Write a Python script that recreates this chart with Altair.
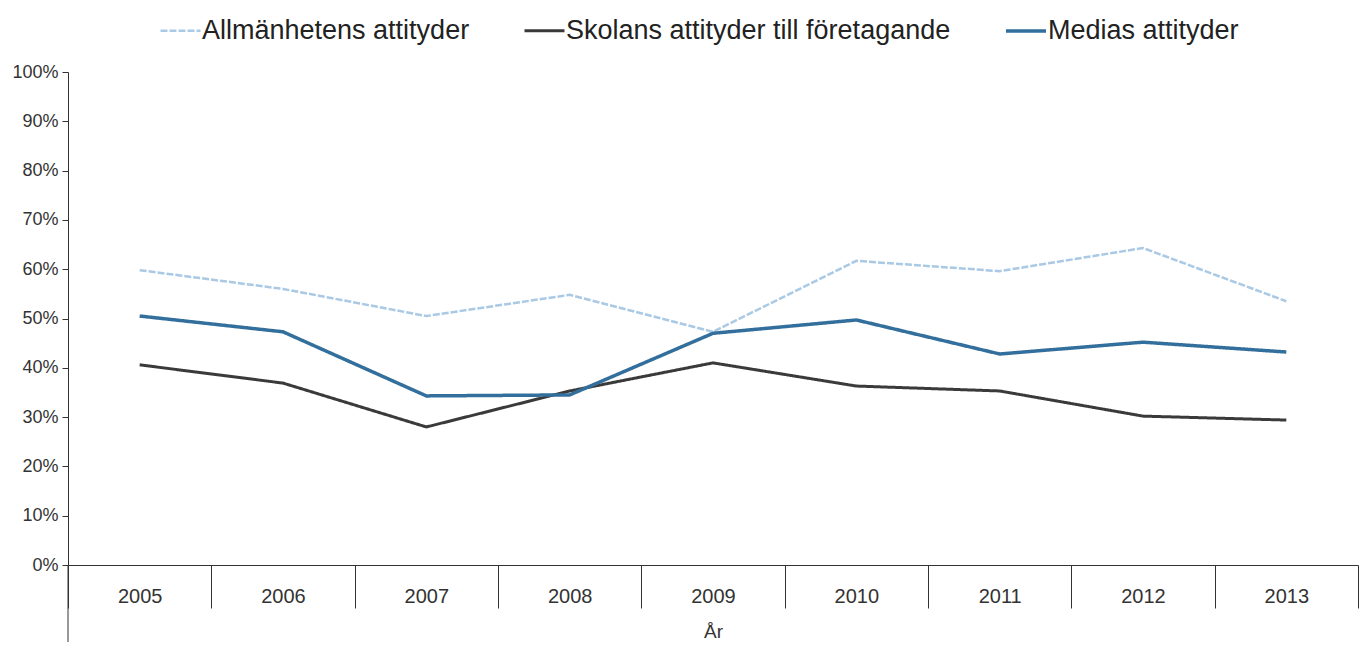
import altair as alt
import pandas as pd

years = ["2005", "2006", "2007", "2008", "2009", "2010", "2011", "2012", "2013"]
allmanhet = [59.8, 56.0, 50.5, 54.8, 47.3, 61.7, 59.6, 64.3, 53.5]
skolans = [40.6, 36.9, 28.0, 35.3, 41.0, 36.3, 35.3, 30.2, 29.4]
medias = [50.5, 47.3, 34.3, 34.5, 47.0, 49.7, 42.8, 45.2, 43.2]

series_names = ["Allmänhetens attityder", "Skolans attityder till företagande", "Medias attityder"]
series_values = [allmanhet, skolans, medias]
series_colors = ["#a9c9e4", "#3a3a3a", "#336f9c"]
series_widths = [2.5, 3.5, 4.5]
series_dash = [[7, 2], [1, 0], [1, 0]]

rows = []
for name, vals in zip(series_names, series_values):
    for y, v in zip(years, vals):
        rows.append({"year": y, "value": v / 100.0, "series": name})
df = pd.DataFrame(rows)

W, H = 1290, 493
FONT = "Liberation Sans"

x_enc = alt.X(
    "year:O",
    bandPosition=0.5,
    scale=alt.Scale(type="band", paddingInner=0, paddingOuter=0),
    axis=alt.Axis(
        title="År",
        tickBand="extent",
        tickSize=43,
        tickColor="#333333",
        domainColor="#333333",
        labelPadding=-22,
        labelFontSize=20,
        labelColor="#333333",
        labelAngle=0,
        titleFontSize=19,
        titleFontWeight="normal",
        titleColor="#333333",
        titlePadding=14,
    ),
)

y_enc = alt.Y(
    "value:Q",
    scale=alt.Scale(domain=[0, 1], nice=False, zero=True),
    axis=alt.Axis(
        title=None,
        format=".0%",
        values=[i / 10 for i in range(11)],
        grid=False,
        tickSize=6,
        tickColor="#333333",
        domainColor="#333333",
        labelFontSize=18,
        labelColor="#333333",
        labelPadding=4,
    ),
)

lines = alt.Chart(df).mark_line(strokeJoin="miter").encode(
    x=x_enc,
    y=y_enc,
    color=alt.Color(
        "series:N",
        sort=series_names,
        scale=alt.Scale(domain=series_names, range=series_colors),
        legend=alt.Legend(
            title=None,
            orient="none",
            direction="horizontal",
            legendX=91,
            legendY=-63,
            symbolType="stroke",
            symbolSize=1600,
            symbolStrokeWidth=4,
            labelFontSize=27,
            labelLimit=0,
            labelColor="#222222",
            labelOffset=0,
            columnPadding=48,
            padding=0,
        ),
    ),
    strokeWidth=alt.StrokeWidth(
        "series:N",
        scale=alt.Scale(domain=series_names, range=series_widths),
        legend=None,
    ),
    strokeDash=alt.StrokeDash(
        "series:N",
        scale=alt.Scale(domain=series_names, range=series_dash),
        legend=None,
    ),
    order=alt.Order("year:O"),
)

axis_ext = alt.Chart(pd.DataFrame({"a": [0]})).mark_rule(color="#333333", strokeWidth=1).encode(
    x=alt.value(0), y=alt.value(H), y2=alt.value(H + 100)
)

chart = (
    alt.layer(lines, axis_ext)
    .properties(
        width=W,
        height=H,
        autosize=alt.AutoSizeParams(type="none"),
        padding={"left": 60, "top": 64, "right": 2, "bottom": 77},
    )
    .configure(font=FONT)
    .configure_view(stroke=None)
)

chart.save("out.html", embed_options={"renderer": "svg", "actions": False})
